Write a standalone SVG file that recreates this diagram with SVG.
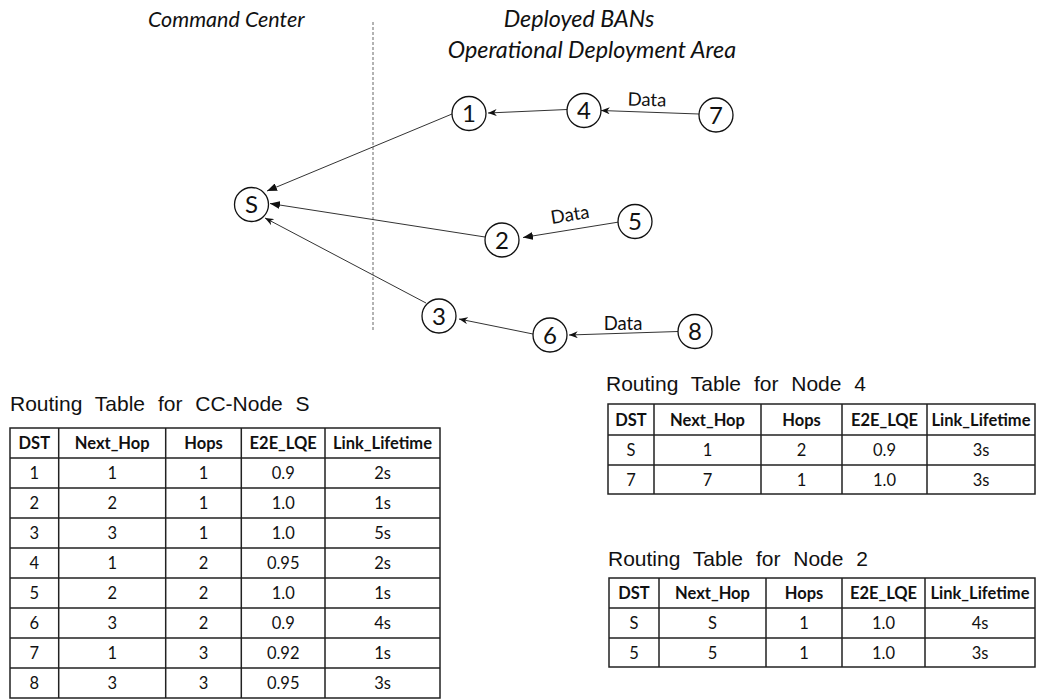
<svg xmlns="http://www.w3.org/2000/svg" width="1040" height="699" viewBox="0 0 1040 699">
<style>
.hdr{font-family:Lato,"Open Sans",sans-serif;font-style:italic;font-size:23.3px;fill:#111}
.node circle{fill:#fff;stroke:#111;stroke-width:1.3}
.node text{font-family:Lato,"Open Sans",sans-serif;font-size:24px;fill:#111;text-anchor:middle}
.conn line{stroke:#333;stroke-width:1}
.lbl{font-family:Lato,"Open Sans",sans-serif;font-size:18.5px;fill:#111;text-anchor:middle}
.ttl{font-family:"Liberation Sans",Arial,sans-serif;font-size:21px;fill:#111;word-spacing:7px}
.grid{fill:none;stroke:#222;stroke-width:1.5}
.c{font-family:Lato,"Open Sans",sans-serif;font-size:16.5px;fill:#111;text-anchor:middle}
.h{font-family:Lato,"Open Sans",sans-serif;font-size:16.5px;font-weight:bold;fill:#111;text-anchor:middle}
</style>
<defs>
<marker id="tri" viewBox="0 0 10 8" refX="10" refY="4" markerWidth="10" markerHeight="8" markerUnits="userSpaceOnUse" orient="auto">
<path d="M0,0 L10,4 L0,8 z" fill="#111"/>
</marker>
<marker id="stl" viewBox="0 0 10 8" refX="10" refY="4" markerWidth="9" markerHeight="7" markerUnits="userSpaceOnUse" orient="auto">
<path d="M0,0 L10,4 L0,8 L3,4 z" fill="#111"/>
</marker>
</defs>
<rect width="1040" height="699" fill="#fff"/>

<text class="hdr" x="148" y="27" style="font-size:21.5px">Command Center</text>
<text class="hdr" x="579" y="27" text-anchor="middle">Deployed BANs</text>
<text class="hdr" x="592" y="58" text-anchor="middle">Operational Deployment Area</text>
<line x1="373" y1="22" x2="373" y2="332" stroke="#666" stroke-width="1" stroke-dasharray="3,2"/>

<g id="connectors" class="conn">
<line x1="452" y1="114" x2="267" y2="191" marker-end="url(#tri)"/>
<line x1="485" y1="237" x2="270" y2="203.5" marker-end="url(#tri)"/>
<line x1="426" y1="303" x2="265" y2="218" marker-end="url(#stl)"/>
<line x1="567" y1="109.5" x2="488" y2="113" marker-end="url(#stl)"/>
<line x1="699" y1="114" x2="601" y2="110.5" marker-end="url(#stl)"/>
<line x1="619" y1="222" x2="523" y2="237.5" marker-end="url(#tri)"/>
<line x1="533" y1="334" x2="459" y2="319" marker-end="url(#stl)"/>
<line x1="678" y1="331.5" x2="569" y2="335" marker-end="url(#stl)"/>
<text class="lbl" x="647" y="106" transform="rotate(1.5 647 100)">Data</text>
<text class="lbl" x="570" y="221" transform="rotate(-9 570 215)">Data</text>
<text class="lbl" x="623" y="330">Data</text>
</g>

<g id="node-S" class="node"><circle cx="251.5" cy="204.5" r="17"/><text x="251.5" y="213">S</text></g>
<g id="node-1" class="node"><circle cx="469" cy="113.5" r="17"/><text x="469" y="122">1</text></g>
<g id="node-4" class="node"><circle cx="584" cy="110.5" r="17"/><text x="584" y="119">4</text></g>
<g id="node-7" class="node"><circle cx="716" cy="115" r="17"/><text x="716" y="123.5">7</text></g>
<g id="node-2" class="node"><circle cx="502" cy="240" r="17"/><text x="502" y="248.5">2</text></g>
<g id="node-5" class="node"><circle cx="635" cy="221.5" r="17"/><text x="635" y="230">5</text></g>
<g id="node-3" class="node"><circle cx="439" cy="316" r="17"/><text x="439" y="324.5">3</text></g>
<g id="node-6" class="node"><circle cx="550" cy="335" r="17"/><text x="550" y="343.5">6</text></g>
<g id="node-8" class="node"><circle cx="695" cy="331.5" r="17"/><text x="695" y="340">8</text></g>

<g id="table-S">
<text class="ttl" x="10" y="411">Routing Table for CC-Node S</text>
<rect class="grid" x="10" y="428" width="430" height="270"/>
<path class="grid" d="M58.7,428V698M165.7,428V698M241.3,428V698M325,428V698M10,458H440M10,488H440M10,518H440M10,548H440M10,578H440M10,608H440M10,638H440M10,668H440"/>
<text class="h" x="34.3" y="449">DST</text><text class="h" x="112.2" y="449">Next_Hop</text><text class="h" x="203.5" y="449">Hops</text><text class="h" x="283.2" y="449">E2E_LQE</text><text class="h" x="382.5" y="449">Link_Lifetime</text>
<text class="c" x="34.3" y="479">1</text><text class="c" x="112.2" y="479">1</text><text class="c" x="203.5" y="479">1</text><text class="c" x="283.2" y="479">0.9</text><text class="c" x="382.5" y="479">2s</text>
<text class="c" x="34.3" y="509">2</text><text class="c" x="112.2" y="509">2</text><text class="c" x="203.5" y="509">1</text><text class="c" x="283.2" y="509">1.0</text><text class="c" x="382.5" y="509">1s</text>
<text class="c" x="34.3" y="539">3</text><text class="c" x="112.2" y="539">3</text><text class="c" x="203.5" y="539">1</text><text class="c" x="283.2" y="539">1.0</text><text class="c" x="382.5" y="539">5s</text>
<text class="c" x="34.3" y="569">4</text><text class="c" x="112.2" y="569">1</text><text class="c" x="203.5" y="569">2</text><text class="c" x="283.2" y="569">0.95</text><text class="c" x="382.5" y="569">2s</text>
<text class="c" x="34.3" y="599">5</text><text class="c" x="112.2" y="599">2</text><text class="c" x="203.5" y="599">2</text><text class="c" x="283.2" y="599">1.0</text><text class="c" x="382.5" y="599">1s</text>
<text class="c" x="34.3" y="629">6</text><text class="c" x="112.2" y="629">3</text><text class="c" x="203.5" y="629">2</text><text class="c" x="283.2" y="629">0.9</text><text class="c" x="382.5" y="629">4s</text>
<text class="c" x="34.3" y="659">7</text><text class="c" x="112.2" y="659">1</text><text class="c" x="203.5" y="659">3</text><text class="c" x="283.2" y="659">0.92</text><text class="c" x="382.5" y="659">1s</text>
<text class="c" x="34.3" y="689">8</text><text class="c" x="112.2" y="689">3</text><text class="c" x="203.5" y="689">3</text><text class="c" x="283.2" y="689">0.95</text><text class="c" x="382.5" y="689">3s</text>
</g>

<g id="table-4">
<text class="ttl" x="606" y="391">Routing Table for Node 4</text>
<rect class="grid" x="608" y="404" width="427" height="90"/>
<path class="grid" d="M654,404V494M761,404V494M842,404V494M927,404V494M608,435H1035M608,465H1035"/>
<text class="h" x="631" y="425.5">DST</text><text class="h" x="707.5" y="425.5">Next_Hop</text><text class="h" x="801.5" y="425.5">Hops</text><text class="h" x="884.5" y="425.5">E2E_LQE</text><text class="h" x="981" y="425.5">Link_Lifetime</text>
<text class="c" x="631" y="456">S</text><text class="c" x="707.5" y="456">1</text><text class="c" x="801.5" y="456">2</text><text class="c" x="884.5" y="456">0.9</text><text class="c" x="981" y="456">3s</text>
<text class="c" x="631" y="485.5">7</text><text class="c" x="707.5" y="485.5">7</text><text class="c" x="801.5" y="485.5">1</text><text class="c" x="884.5" y="485.5">1.0</text><text class="c" x="981" y="485.5">3s</text>
</g>

<g id="table-2">
<text class="ttl" x="608" y="566">Routing Table for Node 2</text>
<rect class="grid" x="609" y="578" width="426" height="89"/>
<path class="grid" d="M659,578V667M766,578V667M842,578V667M925,578V667M609,608H1035M609,638H1035"/>
<text class="h" x="634" y="599">DST</text><text class="h" x="712.5" y="599">Next_Hop</text><text class="h" x="804" y="599">Hops</text><text class="h" x="883.5" y="599">E2E_LQE</text><text class="h" x="980" y="599">Link_Lifetime</text>
<text class="c" x="634" y="629">S</text><text class="c" x="712.5" y="629">S</text><text class="c" x="804" y="629">1</text><text class="c" x="883.5" y="629">1.0</text><text class="c" x="980" y="629">4s</text>
<text class="c" x="634" y="658.5">5</text><text class="c" x="712.5" y="658.5">5</text><text class="c" x="804" y="658.5">1</text><text class="c" x="883.5" y="658.5">1.0</text><text class="c" x="980" y="658.5">3s</text>
</g>
</svg>
